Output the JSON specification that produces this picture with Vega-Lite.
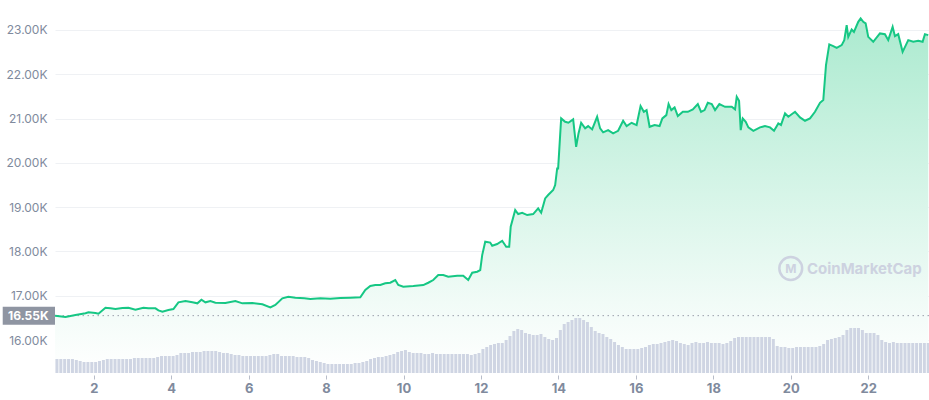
{
  "$schema": "https://vega.github.io/schema/vega-lite/v6.json",
  "width": 874,
  "height": 373,
  "padding": {"left": 55, "top": 0, "right": 0, "bottom": 27},
  "autosize": {"type": "none"},
  "background": "white",
  "config": {
    "view": {"stroke": null},
    "font": "Inter",
    "axis": {"labelFont": "Inter"},
    "scale": {"continuousPadding": 0}
  },
  "datasets": {
    "price": [
      {"day":1.0,"price":16550},{"day":1.271,"price":16519},{"day":1.529,"price":16564},{"day":1.787,"price":16603},{"day":1.865,"price":16625},
      {"day":2.045,"price":16609},{"day":2.123,"price":16594},{"day":2.303,"price":16729},{"day":2.432,"price":16715},{"day":2.561,"price":16700},
      {"day":2.742,"price":16722},{"day":2.897,"price":16729},{"day":3.077,"price":16684},{"day":3.284,"price":16729},{"day":3.413,"price":16715},
      {"day":3.594,"price":16715},{"day":3.671,"price":16670},{"day":3.774,"price":16639},{"day":3.929,"price":16677},{"day":4.058,"price":16700},
      {"day":4.187,"price":16851},{"day":4.368,"price":16880},{"day":4.548,"price":16851},{"day":4.677,"price":16828},{"day":4.781,"price":16910},
      {"day":4.884,"price":16851},{"day":5.013,"price":16880},{"day":5.142,"price":16842},{"day":5.4,"price":16835},{"day":5.658,"price":16880},
      {"day":5.839,"price":16828},{"day":6.097,"price":16835},{"day":6.355,"price":16806},{"day":6.561,"price":16738},{"day":6.69,"price":16790},
      {"day":6.871,"price":16941},{"day":7.026,"price":16977},{"day":7.206,"price":16955},{"day":7.439,"price":16941},{"day":7.594,"price":16925},
      {"day":7.852,"price":16941},{"day":8.11,"price":16932},{"day":8.368,"price":16948},{"day":8.626,"price":16955},{"day":8.884,"price":16964},
      {"day":9.013,"price":17129},{"day":9.142,"price":17219},{"day":9.271,"price":17241},{"day":9.4,"price":17241},{"day":9.529,"price":17280},
      {"day":9.658,"price":17293},{"day":9.787,"price":17354},{"day":9.865,"price":17241},{"day":9.994,"price":17203},{"day":10.252,"price":17219},
      {"day":10.51,"price":17241},{"day":10.639,"price":17293},{"day":10.768,"price":17354},{"day":10.897,"price":17467},{"day":11.026,"price":17467},
      {"day":11.155,"price":17429},{"day":11.387,"price":17451},{"day":11.542,"price":17451},{"day":11.671,"price":17354},{"day":11.774,"price":17519},
      {"day":11.903,"price":17542},{"day":11.981,"price":17580},{"day":12.032,"price":17918},{"day":12.11,"price":18219},{"day":12.239,"price":18200},
      {"day":12.29,"price":18128},{"day":12.419,"price":18167},{"day":12.548,"price":18241},{"day":12.652,"price":18106},{"day":12.729,"price":18106},
      {"day":12.768,"price":18557},{"day":12.884,"price":18934},{"day":12.961,"price":18844},{"day":13.065,"price":18873},{"day":13.194,"price":18821},
      {"day":13.348,"price":18844},{"day":13.477,"price":18972},{"day":13.555,"price":18873},{"day":13.658,"price":19198},{"day":13.735,"price":19273},
      {"day":13.865,"price":19386},{"day":13.916,"price":19498},{"day":13.968,"price":19875},{"day":13.993,"price":19875},{"day":14.071,"price":21004},
      {"day":14.174,"price":20927},{"day":14.258,"price":20905},{"day":14.381,"price":20981},{"day":14.458,"price":20363},{"day":14.519,"price":20665},
      {"day":14.587,"price":20905},{"day":14.69,"price":20778},{"day":14.768,"price":20830},{"day":14.871,"price":20755},{"day":15.0,"price":21040},
      {"day":15.077,"price":20778},{"day":15.155,"price":20688},{"day":15.284,"price":20740},{"day":15.413,"price":20665},{"day":15.542,"price":20724},
      {"day":15.671,"price":20950},{"day":15.761,"price":20830},{"day":15.89,"price":20905},{"day":16.019,"price":20853},{"day":16.122,"price":21281},
      {"day":16.206,"price":21153},{"day":16.277,"price":21191},{"day":16.355,"price":20814},{"day":16.484,"price":20853},{"day":16.613,"price":20830},
      {"day":16.684,"price":21004},{"day":16.787,"price":21078},{"day":16.845,"price":21327},{"day":16.916,"price":21191},{"day":17.0,"price":21252},
      {"day":17.084,"price":21056},{"day":17.213,"price":21153},{"day":17.342,"price":21153},{"day":17.471,"price":21207},{"day":17.6,"price":21327},
      {"day":17.684,"price":21153},{"day":17.774,"price":21191},{"day":17.858,"price":21356},{"day":17.96,"price":21327},{"day":18.045,"price":21191},
      {"day":18.156,"price":21327},{"day":18.303,"price":21266},{"day":18.476,"price":21266},{"day":18.561,"price":21207},{"day":18.605,"price":21491},
      {"day":18.665,"price":21401},{"day":18.708,"price":20740},{"day":18.76,"price":21004},{"day":18.837,"price":20927},{"day":18.905,"price":20801},
      {"day":19.034,"price":20724},{"day":19.206,"price":20801},{"day":19.335,"price":20830},{"day":19.465,"price":20801},{"day":19.568,"price":20724},
      {"day":19.679,"price":20891},{"day":19.748,"price":20853},{"day":19.852,"price":21117},{"day":19.937,"price":21040},{"day":20.11,"price":21153},
      {"day":20.239,"price":21026},{"day":20.368,"price":20950},{"day":20.497,"price":21004},{"day":20.626,"price":21153},{"day":20.755,"price":21356},
      {"day":20.84,"price":21417},{"day":20.91,"price":22207},{"day":20.995,"price":22674},{"day":21.098,"price":22636},{"day":21.186,"price":22597},
      {"day":21.315,"price":22658},{"day":21.382,"price":22771},{"day":21.444,"price":23110},{"day":21.485,"price":22845},{"day":21.573,"price":23012},
      {"day":21.632,"price":22958},{"day":21.743,"price":23184},{"day":21.805,"price":23261},{"day":21.872,"price":23184},{"day":21.934,"price":23148},
      {"day":22.001,"price":22845},{"day":22.13,"price":22733},{"day":22.303,"price":22922},{"day":22.432,"price":22906},{"day":22.517,"price":22771},
      {"day":22.631,"price":23071},{"day":22.69,"price":22861},{"day":22.775,"price":22906},{"day":22.889,"price":22507},{"day":23.034,"price":22771},
      {"day":23.163,"price":22733},{"day":23.292,"price":22755},{"day":23.405,"price":22733},{"day":23.465,"price":22906},{"day":23.55,"price":22884}
    ],
    "volume": [
      {"day":1.05,"volume":1.4},{"day":1.15,"volume":1.4},{"day":1.25,"volume":1.4},{"day":1.35,"volume":1.4},{"day":1.45,"volume":1.4},
      {"day":1.55,"volume":1.3},{"day":1.65,"volume":1.2},{"day":1.75,"volume":1.1},{"day":1.85,"volume":1.1},{"day":1.95,"volume":1.1},
      {"day":2.05,"volume":1.1},{"day":2.15,"volume":1.2},{"day":2.25,"volume":1.3},{"day":2.35,"volume":1.4},{"day":2.45,"volume":1.4},
      {"day":2.55,"volume":1.4},{"day":2.65,"volume":1.4},{"day":2.75,"volume":1.4},{"day":2.85,"volume":1.4},{"day":2.95,"volume":1.4},
      {"day":3.05,"volume":1.5},{"day":3.15,"volume":1.5},{"day":3.25,"volume":1.5},{"day":3.35,"volume":1.5},{"day":3.45,"volume":1.5},
      {"day":3.55,"volume":1.5},{"day":3.65,"volume":1.6},{"day":3.75,"volume":1.7},{"day":3.85,"volume":1.7},{"day":3.95,"volume":1.7},
      {"day":4.05,"volume":1.7},{"day":4.15,"volume":1.8},{"day":4.25,"volume":2.0},{"day":4.35,"volume":2.0},{"day":4.45,"volume":2.0},
      {"day":4.55,"volume":2.1},{"day":4.65,"volume":2.1},{"day":4.75,"volume":2.1},{"day":4.85,"volume":2.2},{"day":4.95,"volume":2.2},
      {"day":5.05,"volume":2.2},{"day":5.15,"volume":2.2},{"day":5.25,"volume":2.1},{"day":5.35,"volume":2.0},{"day":5.45,"volume":2.0},
      {"day":5.55,"volume":1.9},{"day":5.65,"volume":1.8},{"day":5.75,"volume":1.8},{"day":5.85,"volume":1.7},{"day":5.95,"volume":1.7},
      {"day":6.05,"volume":1.7},{"day":6.15,"volume":1.7},{"day":6.25,"volume":1.7},{"day":6.35,"volume":1.7},{"day":6.45,"volume":1.7},
      {"day":6.55,"volume":1.8},{"day":6.65,"volume":1.9},{"day":6.75,"volume":1.9},{"day":6.85,"volume":1.7},{"day":6.95,"volume":1.7},
      {"day":7.05,"volume":1.7},{"day":7.15,"volume":1.7},{"day":7.25,"volume":1.6},{"day":7.35,"volume":1.6},{"day":7.45,"volume":1.6},
      {"day":7.55,"volume":1.5},{"day":7.65,"volume":1.3},{"day":7.75,"volume":1.2},{"day":7.85,"volume":1.1},{"day":7.95,"volume":1.0},
      {"day":8.05,"volume":0.9},{"day":8.15,"volume":0.9},{"day":8.25,"volume":0.9},{"day":8.35,"volume":0.9},{"day":8.45,"volume":0.9},
      {"day":8.55,"volume":0.9},{"day":8.65,"volume":0.9},{"day":8.75,"volume":1.0},{"day":8.85,"volume":1.0},{"day":8.95,"volume":1.1},
      {"day":9.05,"volume":1.2},{"day":9.15,"volume":1.4},{"day":9.25,"volume":1.5},{"day":9.35,"volume":1.6},{"day":9.45,"volume":1.6},
      {"day":9.55,"volume":1.7},{"day":9.65,"volume":1.8},{"day":9.75,"volume":1.9},{"day":9.85,"volume":2.1},{"day":9.95,"volume":2.2},
      {"day":10.05,"volume":2.3},{"day":10.15,"volume":2.1},{"day":10.25,"volume":2.0},{"day":10.35,"volume":2.0},{"day":10.45,"volume":2.0},
      {"day":10.55,"volume":1.9},{"day":10.65,"volume":1.9},{"day":10.75,"volume":2.0},{"day":10.85,"volume":1.9},{"day":10.95,"volume":1.9},
      {"day":11.05,"volume":1.9},{"day":11.15,"volume":1.9},{"day":11.25,"volume":1.9},{"day":11.35,"volume":1.9},{"day":11.45,"volume":1.9},
      {"day":11.55,"volume":1.9},{"day":11.65,"volume":1.9},{"day":11.75,"volume":1.8},{"day":11.85,"volume":1.9},{"day":11.95,"volume":2.0},
      {"day":12.05,"volume":2.4},{"day":12.15,"volume":2.6},{"day":12.25,"volume":2.8},{"day":12.35,"volume":2.9},{"day":12.45,"volume":3.0},
      {"day":12.55,"volume":3.0},{"day":12.65,"volume":3.3},{"day":12.75,"volume":3.7},{"day":12.85,"volume":4.2},{"day":12.95,"volume":4.4},
      {"day":13.05,"volume":4.3},{"day":13.15,"volume":4.0},{"day":13.25,"volume":3.9},{"day":13.35,"volume":3.8},{"day":13.45,"volume":3.8},
      {"day":13.55,"volume":3.9},{"day":13.65,"volume":3.6},{"day":13.75,"volume":3.4},{"day":13.85,"volume":3.3},{"day":13.95,"volume":3.5},
      {"day":14.05,"volume":4.3},{"day":14.15,"volume":4.9},{"day":14.25,"volume":5.1},{"day":14.35,"volume":5.3},{"day":14.45,"volume":5.5},
      {"day":14.55,"volume":5.5},{"day":14.65,"volume":5.3},{"day":14.75,"volume":5.1},{"day":14.85,"volume":4.6},{"day":14.95,"volume":4.2},
      {"day":15.05,"volume":4.0},{"day":15.15,"volume":3.9},{"day":15.25,"volume":3.6},{"day":15.35,"volume":3.4},{"day":15.45,"volume":3.1},
      {"day":15.55,"volume":2.8},{"day":15.65,"volume":2.6},{"day":15.75,"volume":2.4},{"day":15.85,"volume":2.4},{"day":15.95,"volume":2.4},
      {"day":16.05,"volume":2.4},{"day":16.15,"volume":2.5},{"day":16.25,"volume":2.6},{"day":16.35,"volume":2.8},{"day":16.45,"volume":2.9},
      {"day":16.55,"volume":2.9},{"day":16.65,"volume":3.0},{"day":16.75,"volume":3.1},{"day":16.85,"volume":3.2},{"day":16.95,"volume":3.3},
      {"day":17.05,"volume":3.2},{"day":17.15,"volume":3.0},{"day":17.25,"volume":2.9},{"day":17.35,"volume":2.8},{"day":17.45,"volume":3.0},
      {"day":17.55,"volume":3.1},{"day":17.65,"volume":3.0},{"day":17.75,"volume":3.0},{"day":17.85,"volume":3.1},{"day":17.95,"volume":3.0},
      {"day":18.05,"volume":3.0},{"day":18.15,"volume":3.0},{"day":18.25,"volume":2.9},{"day":18.35,"volume":3.0},{"day":18.45,"volume":3.2},
      {"day":18.55,"volume":3.5},{"day":18.65,"volume":3.6},{"day":18.75,"volume":3.6},{"day":18.85,"volume":3.6},{"day":18.95,"volume":3.6},
      {"day":19.05,"volume":3.6},{"day":19.15,"volume":3.6},{"day":19.25,"volume":3.6},{"day":19.35,"volume":3.6},{"day":19.45,"volume":3.6},
      {"day":19.55,"volume":3.4},{"day":19.65,"volume":2.7},{"day":19.75,"volume":2.6},{"day":19.85,"volume":2.6},{"day":19.95,"volume":2.5},
      {"day":20.05,"volume":2.5},{"day":20.15,"volume":2.6},{"day":20.25,"volume":2.6},{"day":20.35,"volume":2.6},{"day":20.45,"volume":2.6},
      {"day":20.55,"volume":2.6},{"day":20.65,"volume":2.6},{"day":20.75,"volume":2.7},{"day":20.85,"volume":2.9},{"day":20.95,"volume":3.3},
      {"day":21.05,"volume":3.4},{"day":21.15,"volume":3.5},{"day":21.25,"volume":3.6},{"day":21.35,"volume":3.8},{"day":21.45,"volume":4.3},
      {"day":21.55,"volume":4.5},{"day":21.65,"volume":4.5},{"day":21.75,"volume":4.5},{"day":21.85,"volume":4.3},{"day":21.95,"volume":4.0},
      {"day":22.05,"volume":4.0},{"day":22.15,"volume":4.0},{"day":22.25,"volume":3.8},{"day":22.35,"volume":3.3},{"day":22.45,"volume":3.1},
      {"day":22.55,"volume":3.0},{"day":22.65,"volume":3.1},{"day":22.75,"volume":3.0},{"day":22.85,"volume":3.0},{"day":22.95,"volume":3.0},
      {"day":23.05,"volume":3.0},{"day":23.15,"volume":3.0},{"day":23.25,"volume":3.0},{"day":23.35,"volume":3.0},{"day":23.45,"volume":3.0},
      {"day":23.55,"volume":3.0}
    ],
    "current": [{"price": 16550, "label": "16.55K"}],
    "brand": [{"name": "CoinMarketCap", "icon": "M"}]
  },
  "resolve": {"scale": {"y": "independent"}, "axis": {"y": "independent"}},
  "layer": [
    {
      "layer": [
        {
          "data": {"name": "price"},
          "mark": {
            "type": "area",
            "clip": true,
            "color": {
              "gradient": "linear",
              "x1": 0, "y1": 0, "x2": 0, "y2": 1,
              "stops": [
                {"offset": 0, "color": "#abeacf"},
                {"offset": 0.45, "color": "#d3f4e6"},
                {"offset": 0.8, "color": "#f1fbf7"},
                {"offset": 1, "color": "#ffffff"}
              ]
            }
          },
          "encoding": {
            "x": {
              "field": "day", "type": "quantitative", "title": null,
              "scale": {"domain": [1, 23.57], "nice": false, "zero": false, "padding": 0},
              "axis": {
                "values": [2, 4, 6, 8, 10, 12, 14, 16, 18, 20, 22],
                "format": "d",
                "grid": false,
                "domain": false,
                "ticks": true,
                "tickColor": "#b8bdc9",
                "tickSize": 4,
                "offset": 2,
                "labelPadding": 3,
                "labelFontSize": 13,
                "labelFontWeight": "bold",
                "labelColor": "#808a9d",
                "title": null
              }
            },
            "y": {
              "field": "price", "type": "quantitative", "title": null,
              "scale": {"domain": [15255, 23677], "nice": false, "zero": false, "padding": 0},
              "axis": {
                "values": [16000, 17000, 18000, 19000, 20000, 21000, 22000, 23000],
                "labelExpr": "format(datum.value / 1000, '.2f') + 'K'",
                "grid": true,
                "gridColor": "#eff1f4",
                "ticks": false,
                "domain": false,
                "labelPadding": 8,
                "labelFontSize": 12,
                "labelColor": "#808a9d",
                "title": null
              }
            },
            "y2": {"datum": 15255}
          }
        },
        {
          "data": {"name": "current"},
          "mark": {"type": "rule", "color": "#9aa0ad", "strokeDash": [1.5, 3.5], "strokeWidth": 1},
          "encoding": {
            "y": {"field": "price", "type": "quantitative", "title": null}
          }
        },
        {
          "data": {"name": "brand"},
          "mark": {"type": "point", "shape": "circle", "filled": false, "size": 520, "stroke": "#cdd2e0", "strokeWidth": 2.5, "opacity": 1},
          "encoding": {
            "x": {"datum": 20.0, "type": "quantitative", "title": null},
            "y": {"datum": 17614, "type": "quantitative", "title": null}
          }
        },
        {
          "data": {"name": "brand"},
          "mark": {"type": "text", "fontSize": 12, "fontWeight": "bold", "color": "#cdd2e0", "align": "center", "baseline": "middle"},
          "encoding": {
            "x": {"datum": 20.0, "type": "quantitative", "title": null},
            "y": {"datum": 17614, "type": "quantitative", "title": null},
            "text": {"field": "icon"}
          }
        },
        {
          "data": {"name": "brand"},
          "mark": {"type": "text", "fontSize": 15, "fontWeight": "bold", "color": "#cdd2e0", "align": "center", "baseline": "middle"},
          "encoding": {
            "x": {"datum": 21.9, "type": "quantitative", "title": null},
            "y": {"datum": 17614, "type": "quantitative", "title": null},
            "text": {"field": "name"}
          }
        },
        {
          "data": {"name": "price"},
          "mark": {"type": "line", "color": "#16c784", "strokeWidth": 2, "clip": true},
          "encoding": {
            "x": {"field": "day", "type": "quantitative", "title": null},
            "y": {"field": "price", "type": "quantitative", "title": null}
          }
        },
        {
          "data": {"name": "current"},
          "mark": {"type": "bar", "orient": "horizontal", "size": 18, "color": "#8f95a2", "clip": false},
          "encoding": {
            "x": {"datum": -0.35, "type": "quantitative", "title": null},
            "x2": {"datum": 1},
            "y": {"field": "price", "type": "quantitative", "title": null}
          }
        },
        {
          "data": {"name": "current"},
          "mark": {"type": "text", "color": "white", "fontWeight": "bold", "fontSize": 12, "align": "center", "baseline": "middle", "clip": false},
          "encoding": {
            "x": {"datum": 0.31, "type": "quantitative", "title": null},
            "y": {"field": "price", "type": "quantitative", "title": null},
            "text": {"field": "label"}
          }
        }
      ]
    },
    {
      "data": {"name": "volume"},
      "mark": {"type": "bar", "size": 3, "color": "#cfd5e3"},
      "encoding": {
        "x": {"field": "day", "type": "quantitative", "title": null},
        "y": {"field": "volume", "type": "quantitative", "scale": {"domain": [0, 37.3], "nice": false, "padding": 0}, "axis": null}
      }
    }
  ]
}
